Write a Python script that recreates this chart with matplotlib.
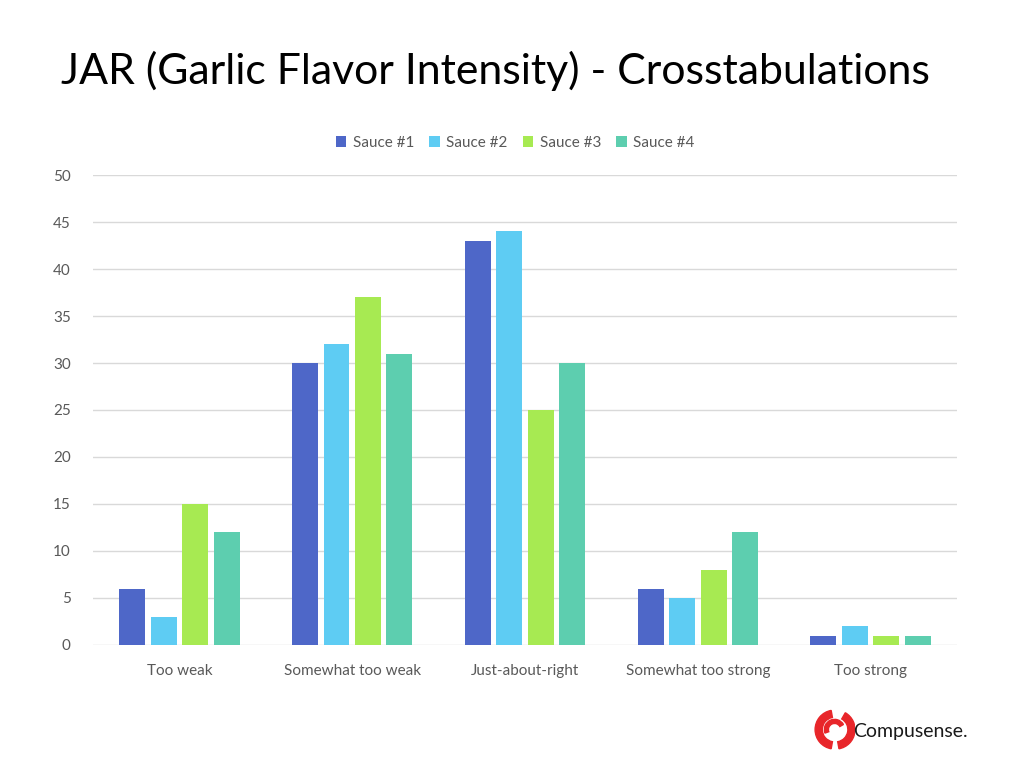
import numpy as np
import matplotlib.pyplot as plt
from matplotlib.patches import Wedge

# data
categories = ["Too weak", "Somewhat too weak", "Just-about-right",
              "Somewhat too strong", "Too strong"]
series_names = ["Sauce #1", "Sauce #2", "Sauce #3", "Sauce #4"]
sauce1 = [6, 30, 43, 6, 1]
sauce2 = [3, 32, 44, 5, 2]
sauce3 = [15, 37, 25, 8, 1]
sauce4 = [12, 31, 30, 12, 1]
colors = ["#4E67C8", "#5ECCF3", "#A7EA52", "#5DCEAF"]

plt.rcParams['font.family'] = ['Lato', 'DejaVu Sans']

fig = plt.figure(figsize=(10.24, 7.68), dpi=100)
ax = fig.add_axes([0.0908, 0.1602, 0.8438, 0.6119])

x = np.arange(len(categories))
pitch = 0.182
for i, (vals, name, c) in enumerate(zip([sauce1, sauce2, sauce3, sauce4], series_names, colors)):
    ax.bar(x + (i - 1.5) * pitch, vals, width=0.15, color=c, label=name, zorder=3)

ax.set_xlim(-0.5, 4.5)
ax.set_ylim(0, 50)
ax.set_yticks(range(0, 51, 5))
ax.set_xticks(x)
ax.set_xticklabels(categories)
ax.grid(axis='y', color='#D9D9D9', linewidth=1, zorder=0)
for s in ax.spines.values():
    s.set_visible(False)
ax.tick_params(length=0, labelsize=11, labelcolor='#595959')
ax.tick_params(axis='y', pad=16)
ax.tick_params(axis='x', pad=14)

fig.legend(loc='center', bbox_to_anchor=(0.503, 0.814), ncol=4, frameon=False,
           fontsize=11, handlelength=0.7, handleheight=0.7, handletextpad=0.4,
           columnspacing=1.0, labelcolor='#595959')

fig.text(0.06, 0.908, "JAR (Garlic Flavor Intensity) - Crosstabulations",
         fontsize=30.8, va='center', ha='left', color='#000000')

# logo
cx, cy = 0.815, 0.05
lax = fig.add_axes([cx - 0.02, cy - 0.027, 0.04, 0.054])
lax.set_xlim(-1, 1)
lax.set_ylim(-1, 1)
lax.set_aspect('equal')
lax.axis('off')
lax.add_patch(Wedge((0, 0), 0.95, 100, 260, width=0.35, color='#E8262A'))
lax.add_patch(Wedge((0.05, 0), 0.95, 280, 60, width=0.35, color='#E8262A'))
lax.add_patch(Wedge((0.0, 0), 0.5, 30, 200, width=0.2, color='#E8262A'))
fig.text(0.833, 0.048, "Compusense.", fontsize=14, va='center', ha='left', color='#1a1a1a')

fig.savefig("out.png", dpi=100)
